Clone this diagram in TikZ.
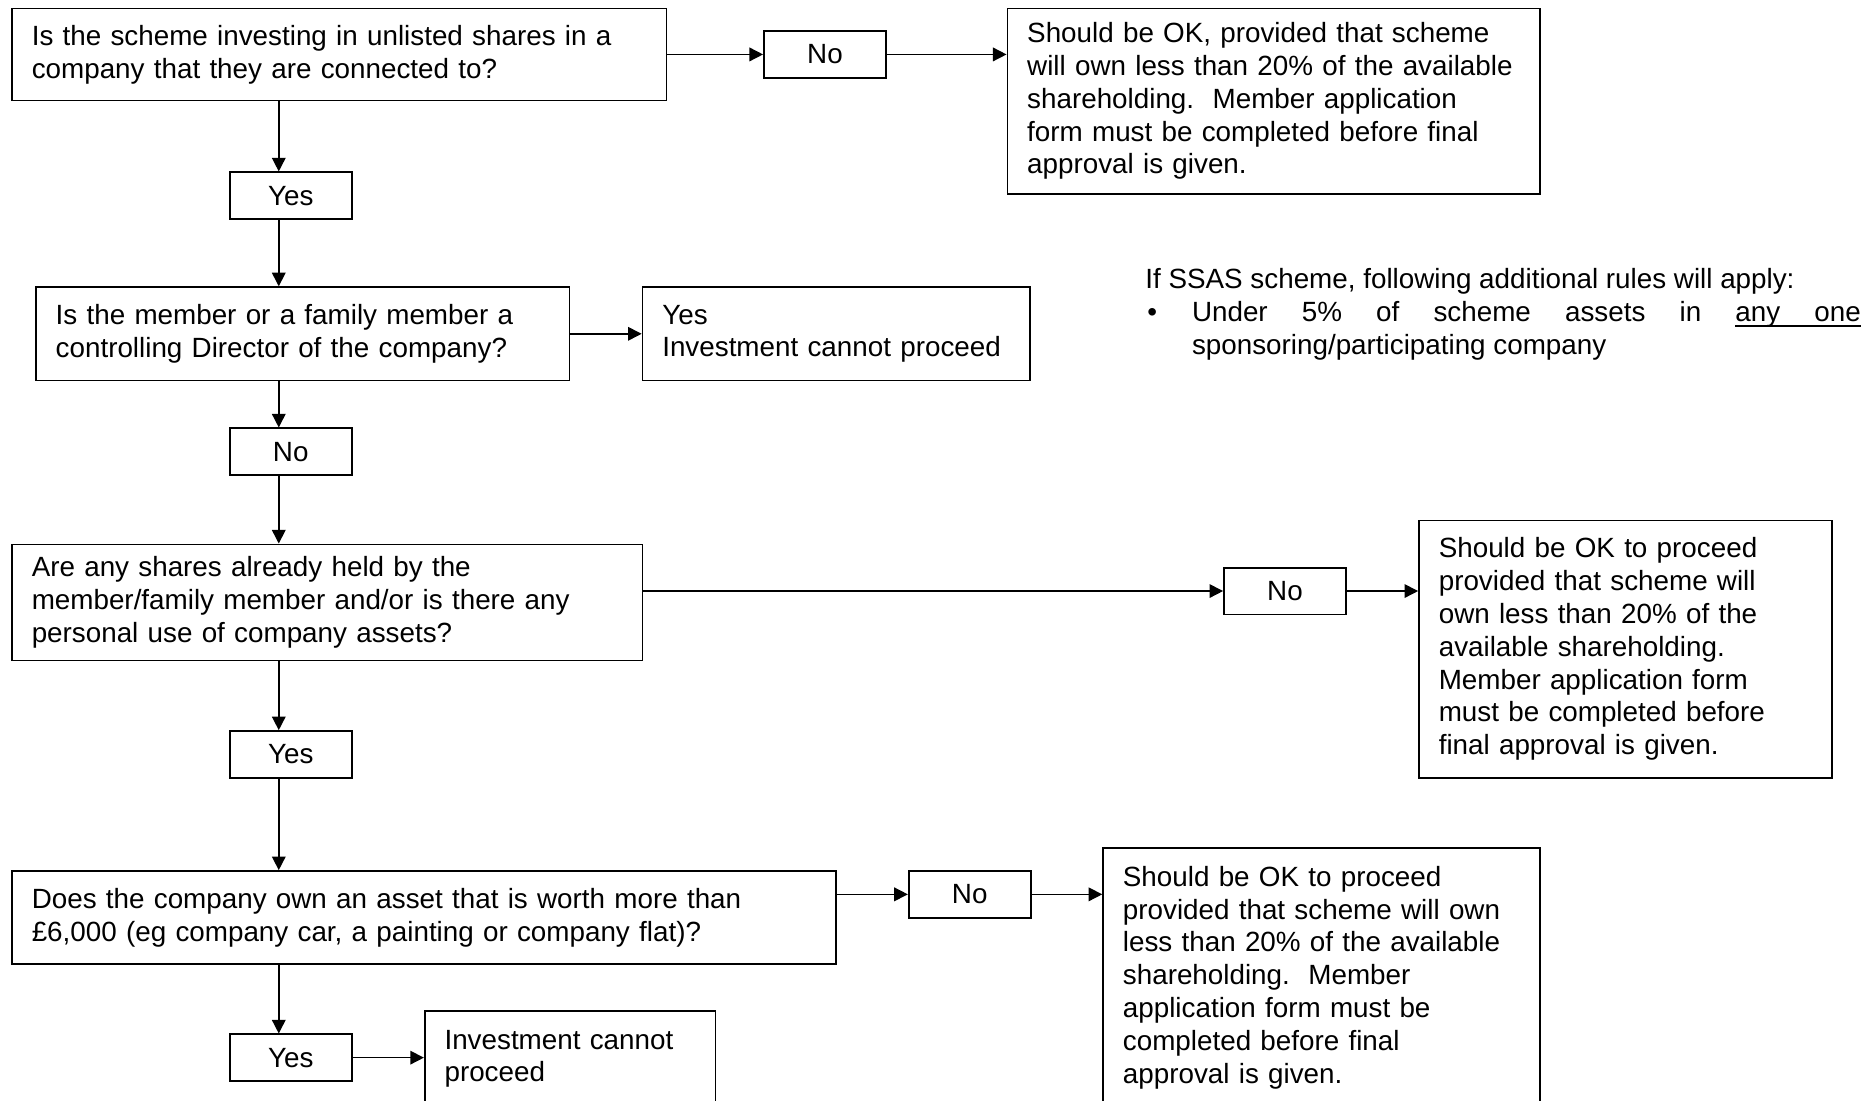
\documentclass[tikz,border=0pt]{standalone}
\usepackage{fontspec}
\setmainfont{Liberation Sans}
\usetikzlibrary{arrows.meta}
\newcommand\SU{0.598pt}
\newcommand\ULw[1]{\setbox0\hbox{#1}\rlap{\vrule height -1.5pt depth 2.5pt width \wd0}\box0}
\begin{document}
\begin{tikzpicture}[x=0.598pt,y=-0.598pt,
  every node/.style={font=\fontsize{13.9pt}{16.4pt}\selectfont},
  bx/.style 2 args={draw, line width=0.85pt, inner sep=0pt, text width=#1*\SU, minimum height=#2*\SU, align=left, execute at begin node={\leftskip=9.9pt\relax}},
  sm/.style={draw, line width=0.85pt, inner sep=0pt, minimum width=102*\SU, minimum height=39*\SU, align=center},
  ar/.style={line width=0.75pt, -{Triangle[length=6.8pt,width=6.8pt]}}]
\useasboundingbox (0,0) rectangle (1568,920);
\coordinate (spine) at (233,0);
% row 1
\node[bx={547}{77}] (q1) at (283.5,45.5) {Is the scheme investing in unlisted shares in a\\company that they are connected to?};
\node[sm] (no1) at (689.5,45.5) {No};
\node[bx={445}{155}] (ok1) at (1064.5,84.5) {Should be OK, provided that scheme\\will own less than 20\% of the available\\shareholding.~~Member application\\form must be completed before final\\approval is given.};
\node[sm] (yes1) at (243,163.5) {Yes};
% row 2
\node[bx={446}{78}] (q2) at (253,279) {Is the member or a family member a\\controlling Director of the company?};
\node[bx={324}{78}] (inv2) at (699,279) {Yes\\Investment cannot proceed};
\node[sm] (no2) at (243,377.5) {No};
% SSAS note
\node[anchor=base west, inner sep=0pt, text width=598*\SU, align=justify] (ssas) at (957,241.5) {If SSAS scheme, following additional rules will apply:\par\leftskip=23.3pt\relax\noindent\llap{\makebox[23.3pt][l]{\hspace{1pt}•}}Under\hfill 5\%\hfill of\hfill scheme\hfill assets\hfill in\hfill \ULw{any}\leaders\hrule height -1.5pt depth 2.5pt\hfill\ULw{one}\\sponsoring/participating company\par};
% row 3
\node[bx={527}{97}] (q3) at (273.5,503.5) {Are any shares already held by the\\member/family member and/or is there any\\personal use of company assets?};
\node[sm] (no3) at (1074,494) {No};
\node[bx={345}{215}] (ok3) at (1358.5,542.5) {Should be OK to proceed\\provided that scheme will\\own less than 20\% of the\\available shareholding.\\Member application form\\must be completed before\\final approval is given.};
\node[sm] (yes3) at (243,630.5) {Yes};
% row 4
\node[bx={689}{78}] (q4) at (354.5,767) {Does the company own an asset that is worth more than\\£6,000 (eg company car, a painting or company flat)?};
\node[sm] (no4) at (810.5,747.5) {No};
\node[bx={365}{216}] (ok4) at (1104.5,817) {Should be OK to proceed\\provided that scheme will own\\less than 20\% of the available\\shareholding.~~Member\\application form must be\\completed before final\\approval is given.};
\node[sm] (yes4) at (243,884) {Yes};
\node[bx={243}{80}] (inv4) at (476.5,885) {Investment cannot\\proceed};
% connectors
\draw[ar] (q1.east) -- (no1.west);
\draw[ar] (no1.east) -- (no1.east -| ok1.west);
\draw[ar] (q1.south -| spine) -- (yes1.north -| spine);
\draw[ar] (yes1.south -| spine) -- (q2.north -| spine);
\draw[ar] (q2.east) -- (inv2.west);
\draw[ar] (q2.south -| spine) -- (no2.north -| spine);
\draw[ar] (no2.south -| spine) -- (q3.north -| spine);
\draw[ar] (no3.west -| q3.east) -- (no3.west);
\draw[ar] (no3.east) -- (no3.east -| ok3.west);
\draw[ar] (q3.south -| spine) -- (yes3.north -| spine);
\draw[ar] (yes3.south -| spine) -- (q4.north -| spine);
\draw[ar] (no4.west -| q4.east) -- (no4.west);
\draw[ar] (no4.east) -- (no4.east -| ok4.west);
\draw[ar] (q4.south -| spine) -- (yes4.north -| spine);
\draw[ar] (yes4.east) -- (yes4.east -| inv4.west);
\end{tikzpicture}
\end{document}
